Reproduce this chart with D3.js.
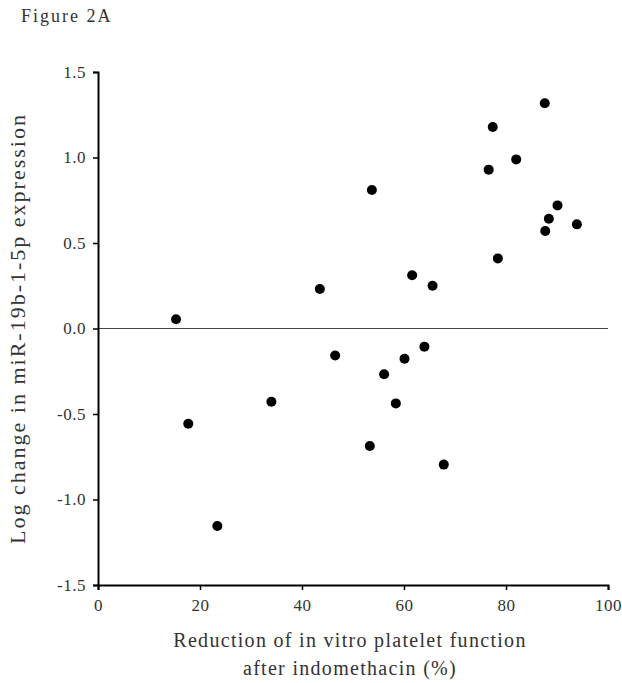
<!DOCTYPE html>
<html>
<head>
<meta charset="utf-8">
<script src="https://cdn.jsdelivr.net/npm/d3@7"></script>
<style>
  body { margin: 0; background: #fff; }
  text { font-family: "Liberation Serif", "DejaVu Serif", serif; fill: #333; }
</style>
</head>
<body>
<svg id="chart" width="622" height="683"></svg>
<script>
// reduction of in vitro platelet function after indomethacin (%)
var reduction = [15.3, 17.7, 23.4, 34.0, 43.5, 46.5, 53.3, 53.7, 56.1, 58.4, 60.1, 61.6,
  64.0, 65.6, 67.8, 76.6, 77.4, 78.4, 82.0, 87.6, 87.7, 88.4, 90.1, 93.9];
// log change in miR-19b-1-5p expression
var logChange = [0.054, -0.557, -1.155, -0.428, 0.231, -0.158, -0.687, 0.81, -0.268, -0.438, -0.177, 0.311,
  -0.106, 0.25, -0.796, 0.929, 1.178, 0.41, 0.989, 1.317, 0.57, 0.642, 0.72, 0.609];
var xTicks = [0, 20, 40, 60, 80, 100];
var yTicks = [-1.5, -1.0, -0.5, 0.0, 0.5, 1.0, 1.5];

var svg = d3.select("#chart"),
  margin = {top: 72, right: 14, bottom: 98, left: 98},
  g = svg.append("g")
    .attr("transform", "translate(" + margin.left + "," + margin.top + ")");

var x = d3.scaleLinear().domain([0, 100]).range([0, 510]),
  y = d3.scaleLinear().domain([-1.5, 1.5]).range([513, 0]);

svg.append("text")
  .attr("x", 21)
  .attr("y", 22)
  .style("font-size", "18px")
  .style("letter-spacing", "2px")
  .text("Figure 2A");

// zero reference line
g.append("line")
  .attr("x1", x(0)).attr("x2", x(100))
  .attr("y1", y(0)).attr("y2", y(0))
  .attr("stroke", "#444")
  .attr("stroke-width", 1.2);

var xAxis = g.append("g")
  .attr("transform", "translate(0," + y(-1.5) + ")")
  .call(d3.axisBottom(x).tickValues(xTicks).tickSize(5).tickPadding(9).tickFormat(d3.format("d")));

var yAxis = g.append("g")
  .call(d3.axisLeft(y).tickValues(yTicks).tickSize(5).tickPadding(7)
    .tickFormat(function(d) { return d3.format(".1f")(d).replace("\u2212", "-"); }));

[xAxis, yAxis].forEach(function(a) {
  a.select(".domain").attr("stroke", "#000").attr("stroke-width", 2);
  a.selectAll(".tick line").attr("stroke", "#000").attr("stroke-width", 1.5);
  a.selectAll(".tick text")
    .style("font-family", "'Liberation Serif', serif")
    .style("font-size", "17px")
    .style("letter-spacing", "0.5px")
    .attr("fill", "#333");
});

// points
g.append("g")
  .selectAll("circle")
  .data(reduction)
  .enter()
  .append("circle")
    .attr("cx", function(d) { return x(d); })
    .attr("cy", function(d, i) { return y(logChange[i]); })
    .attr("r", 5)
    .attr("fill", "#000");

// axis titles
var xTitle = svg.append("text")
  .attr("text-anchor", "middle")
  .style("font-size", "20px")
  .style("letter-spacing", "1.3px");
xTitle.append("tspan").attr("x", 350).attr("y", 647).text("Reduction of in vitro platelet function");
xTitle.append("tspan").attr("x", 350).attr("y", 675).text("after indomethacin (%)");

svg.append("text")
  .attr("text-anchor", "middle")
  .attr("transform", "translate(25," + (margin.top + y(0)) + ") rotate(-90)")
  .style("font-size", "22px")
  .style("letter-spacing", "2px")
  .text("Log change in miR-19b-1-5p expression");
</script>
</body>
</html>
